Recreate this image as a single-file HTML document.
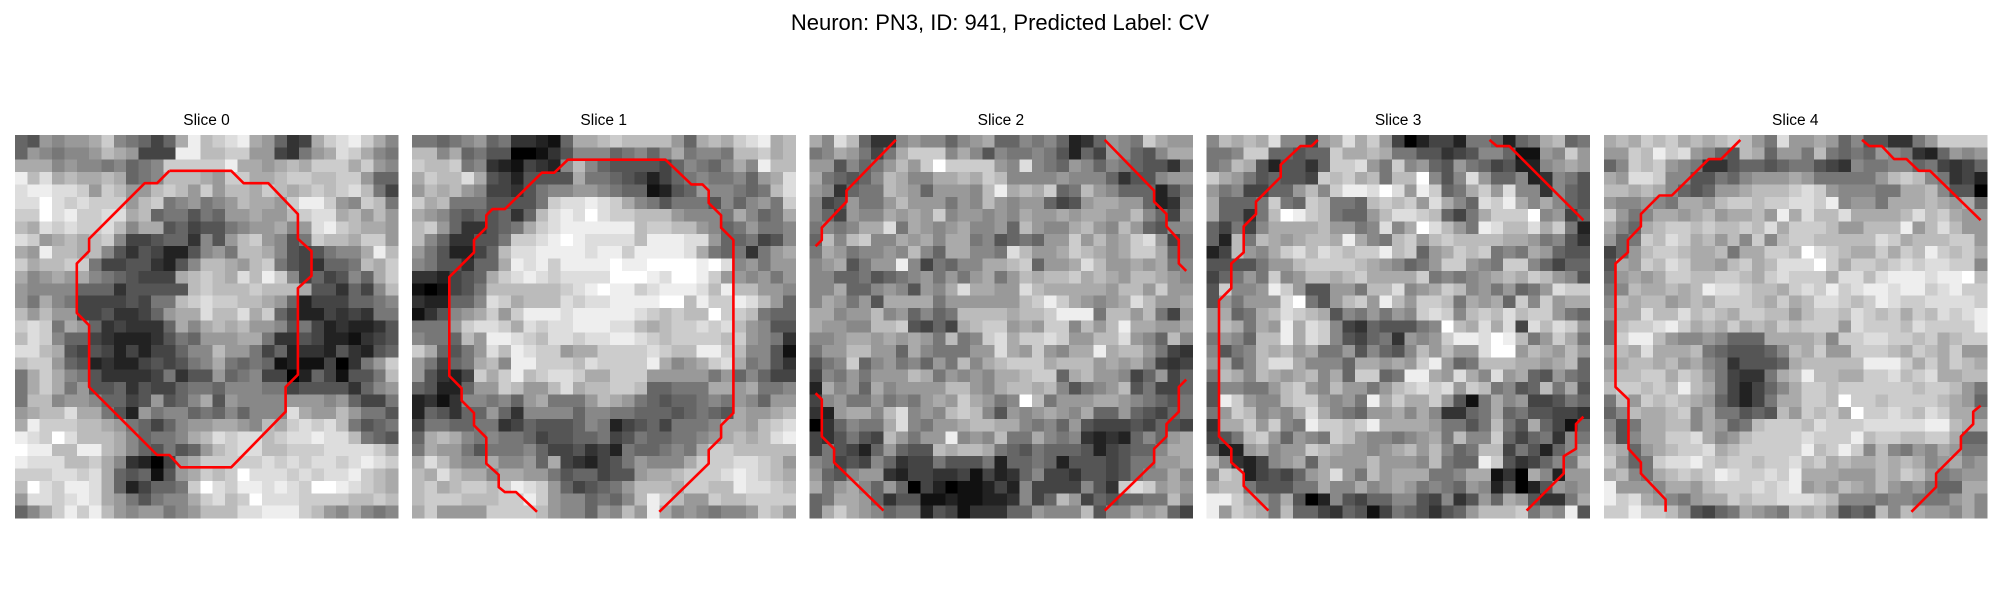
<!DOCTYPE html>
<html><head><meta charset="utf-8"><style>
html,body{margin:0;padding:0;background:#fff;}
svg{display:block;}
</style></head><body>
<svg id="fig" width="2000" height="600" xmlns="http://www.w3.org/2000/svg">
<text x="1000" y="30" text-anchor="middle" font-family="Liberation Sans, DejaVu Sans, sans-serif" font-size="22" fill="#000">Neuron: PN3, ID: 941, Predicted Label: CV</text>
</svg>
<script>
const sliceTitles = ["Slice 0","Slice 1","Slice 2","Slice 3","Slice 4"];
const slice0 = [
"659899ac87646aebcdea9634acdeca8","6987889ba9444eebbcc994379adca87","aaa898878678ccccceaa9abacccac98","ebdabaaba678bbba9ccaabccbbccа96","deeddc9cb99bcb9c9bbacbabcbcdb74",
"ddfdcdccc9bc789789baa9ceec98cb7","ccfdeccddab6775769 9a99bcddab9b9","badcdccdb8aa5645578 99a89decbaa9","dc9ababc8445663859bc985 7cbbacc9","a9ebbab853542258 9 7bba8545788aeb",
"cabbcc74455325 8bba9bc754366 7bac","a89a9a87654 44abcbadbec846458 6ac","98888666355555bcbbbcbbba553648b6","97a874444547 7bcdccbba962444667 8","b9b994453346 9aadbbdacа6422434 37",
"cdc7a9634333 6a8abab99857423223 5","bdc8664322235769 99aa7335422134 5","ddba545424244688b9974623325325 6","bcc96523224545 78a76761211403 79c","7aca8753333473559678440264155 7b",
"7aca795563544677688877455553689 8","7bb8998664595 68a598888999896447","9abbdaa752978867686888da9 9b9775 46","aecccbba976468 99aa98bacdcdb756 7","edcfdbbba867 78abdcddbcddeddb765",
"feebbeeba8657569bcddbbcccddddca7","edddbbca83204 9acccccdcdcddcdedca","cccddcda6561 59acbcfdddcdcddecba","bfdceeda6246 67cfdceededcffedcba","9ddcdeda97578 8acdbcfdddccccbbcba",
"68aceceb989978 9bbbddeeecb98a878"];
const slice1 = [
"7767896733216aabcbbbb96abacdeab","bb8a675500135888678 68a788 7bbcab","cbbc783214328b8655554687 68a8eb","acbbda542555 5a776542467877869ad","9bab98443578899876612569887 67bd",
"cab7775555 7cddedca87577758689 7c","a98656563 6bdedfdccbbb98887a867a","bc96335 67acdeeeeeebccbb98679778","b86335 57ccdefeddddbeeedd96674 58","9752246bddeeeedeecee eeda7673 79a",
"87553 66aedecee eefeeffffefd897999a","3324 56acdedcddddfffedffec998979","101457bbbbbbcdefeecdeeedbebb9989","3226 68dcabbbdcddeeeeffbeccedb96","1358 9acа9ceeedeeeeedcbcbbfccb76",
"7779cddcadcddeeeddеbabccdcdb985","8776b9eedcbddcddeedcbccccbc9873","ca6579dbedcc9aacccc dcbbeecb8851","9746 7ab8eeccc bdccccea89acda7853","9532 4cacebcddcaacc c999997968644",
"6522 699cb99bdabbccb667 77aa9a778","231388786 9a7779ba976566787 98699","265366963888868877666567 65a99ab","4776677346555687245647778aa9bcd","6aba878776455667457667789abab de",
"7a9975777864453427667 87accbbbbb","adb988a88 96a43245798 88acccddcb9","badbaa8aa 99756645 59aabcccdedcba","bcabccbced c9645679bbbacc bbeddcb","bccc bbbcce c988676 8becb99cbbcccc",
"ac9999cccc b988698b9ea898788 9cb9"];
const slice2 = [
"a8db633898868 9a66878623698 7ca99","78a9747acc c8a858778752649 86 58a","995867 9b9cfcccc98d8769868765537 8","a7656 8ba88aaba cb88889888 6355 89","98367 7ba969998beaba c67b98 66625 7",
"8459779b99979 8b9899 6459aa9 96238","8649 88a9a9c899898a99a9aa99b864 9","787 8aad7a989a889 6b988abа98b96 58","6b8bc88a9a8aa78567 699c9b9acd947","7a97889 8b86aa887 db99acba9acca67",
"89a5799e847688aabc699adb99a9a78","8866756789797 9a7 9bab bcaba9bba98","88a6689859 8adaa99dbaaaaa9bb9c99","8a979 5aaaa7999999bcec a98 9adb99a","aa899b89686 7bbbbabbceee7bb9b749",
"a998 8bbc5464abcc9a9cc8b9bea a99a","889aa9a9a97b78cdacc dc99bbd9 86b8","799bb996a8777 99da9c98aae abb97 43","578c689786 97b8abcccabbb9a9a8434","487979 99ba798 98aabcc6ab998469 46",
"2a896a89999bb98abbab857 89b57446","489779787 9a9ca978fb7999aa98 7657","329aa8bd898bcb859 89a98a669654 67","036877ad8799abbaa878695444546544","435754b979 9e89 8b77a87832326869a",
"47542696 55babba76576665245668aa","874548634475557266762555457799a","96589932443341423684435545788a8","a79a8696 04201124284444853cdc9a9","67aa9635 51121 1223846b94656677b8",
"6aca98677254133366988 8b588a9a64"];
const slice3 = [
"8babad8849adac9402442776267ab67","778cc665 66caaba775534588611 98c9","78ba525536ccd97c896597645228 9a9","ca9756554cbcab7bbf858d9668238 75","978446 69b8ceedfd9ec67ac9d883865",
"a66 67c76cb776bcbc9da86dcea8a8659","a6637bfecb7669bddcb647acccf8946","6474 8aaaab9978d8afdb97edbbdac72","62b7ba9abbaea87bc9bcbbbbaa97853","24b98acdbdcbcce bc69acbc787a9655",
"55557 99bccccb a98679ccа987cc8646","4679 7c89bbabcaaaac78789aba cb985","5c889ec955997bbd89acb8979679dcc7","5979 99df759bc9eb9ccb7a9a6c8c9a","9a67abdcba5879798cdc8bcbdbcc976",
"9ba7a9eadc8436555 78fbadad4dbdc9","7986bbeadc8546739 89ceedfeb79ca7","857 8bab9a77958658b9b99dff9ba9b98","9a68bdda888 6aa9a9ce967bbbaa9ab6","7ba8ba9ab8a6cc67eea9da8d9a659 76",
"5887 79bc98b99 79bcdcd9cb785 6b7a5","5ec988bcc98 97eacaac951 7a89445 76","79cb898ada876 99a8a833 67a67554 43","3aac9c87eccbceaaaa9775 7b75a641 6","457bc969 87cb98878 9a7b88c6467387",
"622 9a899cba99 89ab9b867bb47526 89","b832 489a6a999b99 98b766ec534687b","8cb2454 69adа97b9aaa778aa130a829","abb755577a88a89a978769825025 989","eeca97a50285466885483596a9533 7a",
"e9cba7b66436514765356 9bbbc798e5"];
const slice4 = [
"abacbcabab cb97d99a9685533 79cccc","99cbecd98 65ba699 7b767698 73269 89","68cbc98733566567754387788674 346","a9ddc88557689 99a977777 9bcb8734 2","bbaba86569 9abbbcdc988877aab8550",
"98898 7aa9bccbccddce899 7aaaba9a6","c978aa9ab9aab9eadbbdaaaabdbca99","a86abccbcbbcbdacccb99bbbe9bdb99","967cbdcab9b8c8bccbbbbbdcabbbcc9","469bccbaab7aaccbfdcbaacacbecbca",
"5a9cbdcaa9bcabdddfcaccbcdcddcc8","69a9accbbccbacdccca ddbdeeedeef b","78baabab eddcbbacdcecdeedeecdecc","8babb9abacccbacabddcbcedccddddc","9aadbbdbcbaccbb9bccbdcbcacbdcde",
"7bccdecabacabacbccc9dcccbdcccce","7ceeb988986 66aaaab8ccddccbcabcc","abadaaab765556 8bacа99cccbacbac9","9abbab9a8735556abbbbbeeecacacba","abbccacb974337abebbaaccdbcdaabb",
"bccbcbeba7424 68accbccccccbccb97","7b9cbcba964247aaccbfccbccccba96","68baabc8a775 65b9cbcafccdcbdcaa8","857aabb8a967bcccbdcccddddde eba a","958aaccсda89bccccdcccebccbbcca6",
"ba69abccdabccccceсbcec8b879 8a97","c967cddecbccbccdbcabaababa89a897","ab87abcbcedccdceaaa999bacb97899","e9998aa9bcccdcde9a9ba9b989766aa","ecda987 9aacbccdddcb8887887779a8",
"cceccb9546 7a987bab956 5b8ba9 98a8b"];
const slices = [slice0, slice1, slice2, slice3, slice4];

/* contour polylines in cell units (x, y) */
const contour0 = [[[12.5,2.9],[17.5,2.9],[18.5,3.9],[20.5,3.9],[22.9,6.4],[22.9,8.4],[24,9.4],[24,11.4],[22.9,12.4],[22.9,19.4],[21.9,20.4],[21.9,22.4],[17.5,26.9],[13.4,26.9],[12.5,25.9],[11.5,25.9],[6,20.4],[6,15.4],[5,14.4],[5,10.4],[6,9.4],[6,8.4],[10.5,3.9],[11.5,3.9],[12.5,2.9]]];
const contour1 = [[[10.1,30.5],[8.4,28.9],[7.5,28.9],[7,28.5],[7,27.5],[6,26.6],[6,24.5],[5,23.5],[5,22.5],[4,21.5],[4,20.5],[3,19.5],[3,11.5],[5,9.5],[5,8.5],[6,7.5],[6,6.5],[6.5,6],[7.5,6],[10.5,3.05],[11.5,3.05],[12.6,2],[20.5,2],[22.6,4],[23.5,4],[24,4.5],[24,5.5],[25,6.5],[25,7.5],[26,8.5],[26,22.5],[25,23.5],[25,24.5],[24,25.5],[24,26.6],[20,30.5]]];
const contour2 = [
 [[0.5,9],[1,8.5],[1,7.5],[3,5.4],[3,4.5],[7,0.4]],
 [[23.9,0.4],[27.9,4.5],[27.9,5.4],[28.9,6.4],[28.9,7.4],[29.9,8.5],[29.9,10.4],[30.5,11]],
 [[0.5,20.9],[1,21.4],[1,24.4],[2,25.4],[2,26.5],[6,30.4]],
 [[23.9,30.4],[27.9,26.5],[27.9,25.4],[28.9,24.4],[28.9,23.4],[29.9,22.4],[29.9,20.4],[30.5,19.8]]];
const contour3 = [
 [[5,30.4],[3,28.4],[3,27.4],[2,26.5],[2,25.4],[1,24.4],[1,13.4],[2,12.4],[2,10.4],[3,9.5],[3,7.4],[4,6.4],[4,5.4],[6,3.4],[6,2.4],[7.6,0.9],[8.5,0.9],[9,0.4]],
 [[22.9,0.4],[23.5,0.9],[24.5,0.9],[30.5,6.9]],
 [[25.9,30.4],[28.9,27.4],[28.9,26],[29.9,25.4],[29.9,23.4],[30.5,22.8]]];
const contour4 = [
 [[5,30.5],[5,29.5],[3,27.4],[3,26.5],[2,25.4],[2,21.4],[0.95,20.4],[0.95,10.4],[1.95,9.5],[1.95,8.5],[3,7.4],[3,6.4],[4.5,4.9],[5.5,4.9],[8.5,1.95],[9.5,1.95],[11.05,0.4]],
 [[20.9,0.4],[21.5,0.9],[22.5,0.9],[23.5,1.95],[24.5,1.95],[25.5,2.9],[26.4,2.9],[30.5,6.9]],
 [[24.9,30.5],[26.9,28.5],[26.9,27.4],[28.9,25.4],[28.9,24.4],[29.9,23.4],[29.9,22.4],[30.5,21.9]]];
const contours = [contour0, contour1, contour2, contour3, contour4];

const NS = "http://www.w3.org/2000/svg";
const svg = document.getElementById("fig");
const N = 31, SIZE = 383, TOP = 135, LEFT0 = 15, STEP = 397.2;
const cell = SIZE / N;
function xScale(p, v){ return LEFT0 + p*STEP + v*cell; }
function yScale(v){ return TOP + v*cell; }
function clean(row){
  let s = row.replace(/[^0-9a-fA-F]/g, "").toLowerCase();
  while (s.length < N) s += s.charAt(s.length-1) || "8";
  return s.slice(0, N);
}
slices.forEach((rows, p) => {
  const g = document.createElementNS(NS, "g");
  
  
  svg.appendChild(g);
  const t = document.createElementNS(NS, "text");
  
  
  t.setAttribute("x", xScale(p, N/2)); t.setAttribute("y", 125);
  t.setAttribute("text-anchor", "middle");
  t.setAttribute("font-family", "Liberation Sans, DejaVu Sans, sans-serif");
  t.setAttribute("font-size", "15.5");
  t.textContent = sliceTitles[p];
  g.appendChild(t);
  const img = document.createElementNS(NS, "g");
  
  
  img.setAttribute("shape-rendering", "crispEdges");
  g.appendChild(img);
  for (let r = 0; r < N; r++) {
    const s = clean(rows[r] || "8");
    for (let c = 0; c < N; c++) {
      const v = parseInt(s[c], 16) * 17;
      const rc = document.createElementNS(NS, "rect");
      
      
      rc.setAttribute("x", xScale(p, c).toFixed(2));
      rc.setAttribute("y", yScale(r).toFixed(2));
      rc.setAttribute("width", (cell + 0.6).toFixed(2));
      rc.setAttribute("height", (cell + 0.6).toFixed(2));
      rc.setAttribute("fill", `rgb(${v},${v},${v})`);
      img.appendChild(rc);
    }
  }
  contours[p].forEach(line => {
    const pl = document.createElementNS(NS, "polyline");
    
    
    pl.setAttribute("points", line.map(pt => xScale(p, pt[0]).toFixed(1) + "," + yScale(pt[1]).toFixed(1)).join(" "));
    pl.setAttribute("fill", "none");
    pl.setAttribute("stroke", "#ff0000");
    pl.setAttribute("stroke-width", "2.6");
    pl.setAttribute("stroke-linejoin", "round");
    g.appendChild(pl);
  });
});
</script>
</body></html>
